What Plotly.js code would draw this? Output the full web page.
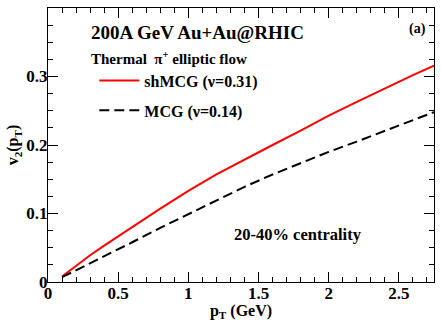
<!DOCTYPE html>
<html>
<head>
<meta charset="utf-8">
<script src="https://cdn.plot.ly/plotly-3.0.1.min.js"></script>
<style>html,body{margin:0;padding:0;background:#fff;}#chart{width:442px;height:321px;}</style>
</head>
<body>
<div id="chart"></div>
<script>
const pT = [0.1, 0.2, 0.3, 0.4, 0.5, 0.6, 0.8, 1.0, 1.2, 1.4, 1.6, 1.8, 2.0, 2.2, 2.4, 2.6, 2.75];
const v2_shMCG = [0.008, 0.024, 0.039, 0.053, 0.067, 0.080, 0.107, 0.133, 0.157, 0.179, 0.200, 0.221, 0.243, 0.263, 0.283, 0.302, 0.316];
const v2_MCG = [0.007, 0.017, 0.027, 0.038, 0.048, 0.058, 0.079, 0.099, 0.119, 0.139, 0.157, 0.174, 0.190, 0.205, 0.221, 0.236, 0.248];
const seriesNames = ['shMCG (\u03bd=0.31)', 'MCG (\u03bd=0.14)'];

const F = 'Liberation Serif, Times New Roman, serif';
const traces = [
  {x: pT, y: v2_shMCG, type: 'scatter', mode: 'lines', name: seriesNames[0], legendgroup: 'a',
   line: {color: '#ff0000', width: 2}},
  {x: pT, y: v2_MCG, type: 'scatter', mode: 'lines', name: seriesNames[1], legendgroup: 'b',
   line: {color: '#000000', width: 2, dash: '10px,5px'}}
];
const axisCommon = {
  showgrid: false, zeroline: false, showline: true, linecolor: '#000', linewidth: 1,
  mirror: 'allticks', ticks: 'inside', ticklen: 10, tickcolor: '#000', tickwidth: 1,
  ticklabelstandoff: -4,
  tickfont: {family: F, size: 17, color: '#000', weight: 'bold'}
};
const layout = {
  width: 442, height: 321,
  margin: {l: 48, r: 8, t: 8, b: 39},
  paper_bgcolor: '#fff', plot_bgcolor: '#fff',
  showlegend: true,
  legend: {x: 0.12, y: 0.797, xanchor: 'left', yanchor: 'top', bgcolor: 'rgba(0,0,0,0)',
           traceorder: 'grouped', tracegroupgap: 6, itemwidth: 40,
           font: {family: F, size: 16, color: '#000', weight: 'bold'}},
  xaxis: Object.assign({}, axisCommon, {
    range: [0, 2.75], dtick: 0.5, tick0: 0,
    minor: {dtick: 0.1, ticks: 'inside', ticklen: 5, tickcolor: '#000'},
    title: {text: 'p<sub>T</sub> (GeV)', standoff: 0, font: {family: F, size: 16, color: '#000', weight: 'bold'}}
  }),
  yaxis: Object.assign({}, axisCommon, {
    range: [0, 0.4], dtick: 0.1, tick0: 0,
    minor: {dtick: 0.025, ticks: 'inside', ticklen: 5, tickcolor: '#000'},
    title: {text: 'v<sub>2</sub>(p<sub>T</sub>)', standoff: 3, font: {family: F, size: 16, color: '#000', weight: 'bold'}}
  }),
  annotations: [
    {xref: 'paper', yref: 'paper', x: 0.106, y: 0.912, xanchor: 'left', yanchor: 'middle', showarrow: false,
     text: '200A GeV Au+Au@RHIC', font: {family: F, size: 19, color: '#000', weight: 'bold'}},
    {xref: 'paper', yref: 'paper', x: 0.985, y: 0.925, xanchor: 'right', yanchor: 'middle', showarrow: false,
     text: '(a)', font: {family: F, size: 14, color: '#000', weight: 'bold'}},
    {xref: 'paper', yref: 'paper', x: 0.106, y: 0.818, xanchor: 'left', yanchor: 'middle', showarrow: false,
     text: 'Thermal  \u03c0<sup>+</sup> elliptic flow', font: {family: F, size: 15, color: '#000', weight: 'bold'}},
    {xref: 'paper', yref: 'paper', x: 0.476, y: 0.172, xanchor: 'left', yanchor: 'middle', showarrow: false,
     text: '20-40% centrality', font: {family: F, size: 16.5, color: '#000', weight: 'bold'}}
  ]
};
Plotly.newPlot('chart', traces, layout, {displayModeBar: false, staticPlot: true});
</script>
</body>
</html>
